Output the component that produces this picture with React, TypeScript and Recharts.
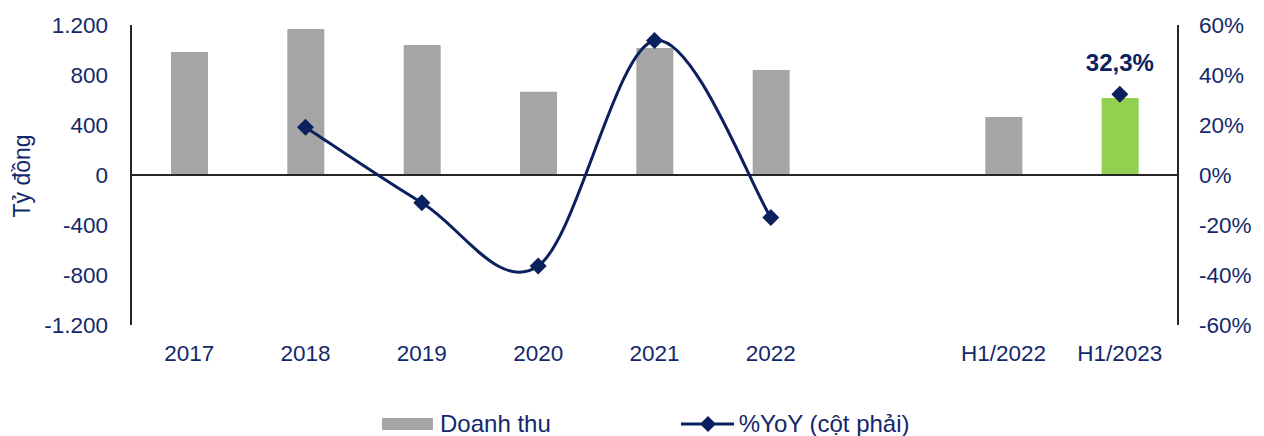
import React from 'react';
import {
  ComposedChart,
  Bar,
  Line,
  Cell,
  XAxis,
  YAxis,
  ReferenceLine,
} from 'recharts';

const CATEGORIES = ['2017', '2018', '2019', '2020', '2021', '2022', '', 'H1/2022', 'H1/2023'];
const REVENUE = [985, 1168, 1040, 666, 1016, 840, null, 464, 616];
const YOY = [null, 19.1, -11.1, -36.4, 53.8, -17.0, null, null, 32.3];
const LEFT_TICKS = [-1200, -800, -400, 0, 400, 800, 1200];
const RIGHT_TICKS = [-60, -40, -20, 0, 20, 40, 60];
const HIGHLIGHT = 'H1/2023';

const NAVY = '#0b215e';
const TEXT = '#13286b';
const AXIS = '#262626';
const GRAY = '#a5a5a5';
const GREEN = '#92d050';
const FONT = '"Liberation Sans", Arial, sans-serif';

const data = CATEGORIES.map((name, i) => ({ name, revenue: REVENUE[i], yoy: YOY[i] }));

// thousands separator "." like the source
const fmtThousands = (v: number) => {
  const s = Math.abs(v).toString().replace(/\B(?=(\d{3})+(?!\d))/g, '.');
  return v < 0 ? `-${s}` : s;
};

// Catmull-Rom style smoothing, similar to Excel's smoothed line
const smoothCurve = (context: any) => {
  let pts: number[][] = [];
  return {
    areaStart() {},
    areaEnd() {},
    lineStart() {
      pts = [];
    },
    lineEnd() {
      if (!pts.length) return;
      context.moveTo(pts[0][0], pts[0][1]);
      for (let i = 0; i < pts.length - 1; i++) {
        const p0 = pts[i - 1] || pts[i];
        const p1 = pts[i];
        const p2 = pts[i + 1];
        const p3 = pts[i + 2] || pts[i + 1];
        context.bezierCurveTo(
          p1[0] + (p2[0] - p0[0]) / 6,
          p1[1] + (p2[1] - p0[1]) / 6,
          p2[0] - (p3[0] - p1[0]) / 6,
          p2[1] - (p3[1] - p1[1]) / 6,
          p2[0],
          p2[1]
        );
      }
    },
    point(x: number, y: number) {
      pts.push([+x, +y]);
    },
  };
};

const Diamond = (props: any) => {
  const { cx, cy, index } = props;
  if (cx == null || cy == null || props.value == null) return <g key={`d-${index}`} />;
  const r = 8.5;
  return (
    <polygon
      key={`d-${index}`}
      points={`${cx},${cy - r} ${cx + r},${cy} ${cx},${cy + r} ${cx - r},${cy}`}
      fill={NAVY}
    />
  );
};

const lastLabel = (props: any) => {
  const { x, y, value, index } = props;
  if (index !== CATEGORIES.length - 1 || value == null) return null;
  return (
    <text
      key="lbl"
      x={x}
      y={y - 32}
      textAnchor="middle"
      dominantBaseline="central"
      fill={NAVY}
      fontFamily={FONT}
      fontSize={24}
      fontWeight="bold"
    >
      {`${Number(value).toFixed(1).replace('.', ',')}%`}
    </text>
  );
};

const tickStyle = { fill: TEXT, fontSize: 22.5, fontFamily: FONT };

export default function App() {
  return (
    <div style={{ position: 'absolute', left: 0, top: 0, width: 1264, height: 436 }}>
      <ComposedChart
        width={1264}
        height={436}
        data={data}
        margin={{ top: 25, right: 6, bottom: 71, left: 51 }}
      >
        <XAxis
          dataKey="name"
          axisLine={false}
          tickLine={false}
          tickSize={0}
          tickMargin={20}
          height={40}
          interval={0}
          tick={tickStyle}
        />
        <YAxis
          yAxisId="left"
          width={80}
          domain={[-1200, 1200]}
          ticks={LEFT_TICKS}
          tickFormatter={fmtThousands}
          axisLine={{ stroke: AXIS, strokeWidth: 2 }}
          tickLine={false}
          tickSize={0}
          tickMargin={23}
          tick={tickStyle}
          label={() => (
            <text
              x={22}
              y={176}
              transform="rotate(-90 22 176)"
              textAnchor="middle"
              dominantBaseline="central"
              fill={TEXT}
              fontFamily={FONT}
              fontSize={23}
            >
              Tỷ đồng
            </text>
          )}
        />
        <YAxis
          yAxisId="right"
          orientation="right"
          width={80}
          domain={[-60, 60]}
          ticks={RIGHT_TICKS}
          tickFormatter={(v: number) => `${v}%`}
          axisLine={{ stroke: AXIS, strokeWidth: 2 }}
          tickLine={false}
          tickSize={0}
          tickMargin={21}
          tick={{ ...tickStyle, textAnchor: 'start' }}
        />
        <Bar yAxisId="left" dataKey="revenue" barSize={37} isAnimationActive={false}>
          {data.map((d, i) => (
            <Cell key={`c-${i}`} fill={d.name === HIGHLIGHT ? GREEN : GRAY} />
          ))}
        </Bar>
        <ReferenceLine yAxisId="left" y={0} stroke={AXIS} strokeWidth={2} />
        <Line
          yAxisId="right"
          dataKey="yoy"
          type={smoothCurve as any}
          stroke={NAVY}
          strokeWidth={3}
          dot={Diamond}
          activeDot={false}
          label={lastLabel}
          isAnimationActive={false}
        />
      </ComposedChart>
      <div
        style={{
          position: 'absolute',
          left: 382,
          top: 411,
          height: 26,
          display: 'flex',
          alignItems: 'center',
          fontFamily: FONT,
          fontSize: 24,
          color: TEXT,
          whiteSpace: 'nowrap',
        }}
      >
        <span style={{ display: 'inline-block', width: 51, height: 12, background: GRAY, marginRight: 7 }} />
        <span>Doanh thu</span>
        <svg width={53} height={18} style={{ marginLeft: 130, marginRight: 5 }}>
          <line x1={0} y1={9} x2={53} y2={9} stroke={NAVY} strokeWidth={3} />
          <polygon points="27,1 35,9 27,17 19,9" fill={NAVY} />
        </svg>
        <span>%YoY (cột phải)</span>
      </div>
    </div>
  );
}
